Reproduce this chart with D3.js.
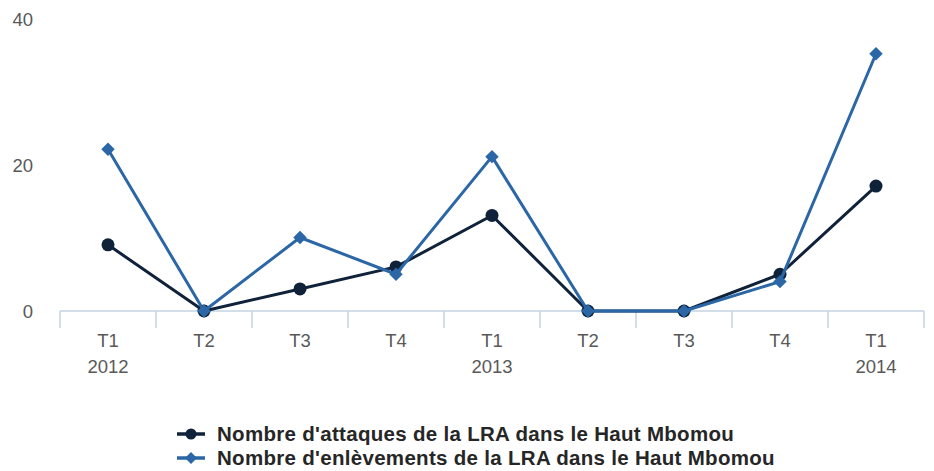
<!DOCTYPE html>
<html><head><meta charset="utf-8">
<script src="https://cdn.jsdelivr.net/npm/d3@7"></script>
<style>body{margin:0;background:#fff}svg{display:block}</style>
</head><body>
<svg id="c" width="934" height="471"></svg>
<script>
const quarters = ["T1","T2","T3","T4","T1","T2","T3","T4","T1"];
const years = ["2012","","","","2013","","","","2014"];
const attaques = [9,0,3,6,13,0,0,5,17];
const enlevements = [22,0,10,5,21,0,0,4,35];
const yTicks = [0,20,40];
const seriesNames = ["Nombre d'attaques de la LRA dans le Haut Mbomou","Nombre d'enlèvements de la LRA dans le Haut Mbomou"];
const colors = ["#0f223a","#2b66a6"];

const svg = d3.select("#c");
const idx = d3.range(quarters.length);
const x = d3.scaleBand().domain(idx).range([60, 924]).padding(0);
const y = d3.scaleLinear().domain([0,40]).range([311, 17]);
const font = "'Liberation Sans', Arial, sans-serif";

// x axis line and ticks
const xa = svg.append("g");
xa.append("line").attr("x1",60).attr("x2",924).attr("y1",y(0)).attr("y2",y(0))
  .attr("stroke","#c5d3e4").attr("stroke-width",1.5);
const bounds = d3.range(quarters.length+1).map(i => i < quarters.length ? x(i) : x(quarters.length-1)+x.bandwidth());
xa.selectAll(".tk").data(bounds).join("line")
  .attr("x1",d=>d).attr("x2",d=>d).attr("y1",y(0)).attr("y2",y(0)+17)
  .attr("stroke","#c5d3e4").attr("stroke-width",1.5);
xa.selectAll(".ql").data(idx).join("text")
  .attr("x",i=>x(i)+x.bandwidth()/2).attr("y",347)
  .attr("text-anchor","middle").attr("font-family",font).attr("font-size",18.5).attr("fill","#595959")
  .text(i=>quarters[i]);
xa.selectAll(".yl").data(idx).join("text")
  .attr("x",i=>x(i)+x.bandwidth()/2).attr("y",373)
  .attr("text-anchor","middle").attr("font-family",font).attr("font-size",18.5).attr("fill","#595959")
  .text(i=>years[i]);

// y labels
svg.append("g").selectAll("text").data(yTicks).join("text")
  .attr("x",33).attr("y",d=>y(d)+7+d/20)
  .attr("text-anchor","end").attr("font-family",font).attr("font-size",18.5).attr("fill","#595959")
  .text(d=>d);

const line = d3.line().x((d,i)=>x(i)+x.bandwidth()/2).y(d=>y(d));
const diamond = d3.symbol().type(d3.symbolDiamond2).size(115);

// series 1
svg.append("path").datum(attaques).attr("d",line).attr("fill","none")
  .attr("stroke",colors[0]).attr("stroke-width",3).attr("stroke-linejoin","round");
svg.append("g").selectAll("circle").data(attaques).join("circle")
  .attr("cx",(d,i)=>x(i)+x.bandwidth()/2).attr("cy",d=>y(d)).attr("r",6.5).attr("fill",colors[0]);

// series 2
svg.append("path").datum(enlevements).attr("d",line).attr("fill","none")
  .attr("stroke",colors[1]).attr("stroke-width",3).attr("stroke-linejoin","round");
svg.append("g").selectAll("path").data(enlevements).join("path")
  .attr("d",diamond).attr("transform",(d,i)=>`translate(${x(i)+x.bandwidth()/2},${y(d)})`).attr("fill",colors[1]);

// legend
const lg = svg.append("g");
const rows = [434, 458];
seriesNames.forEach((n,k)=>{
  lg.append("line").attr("x1",177).attr("x2",205).attr("y1",rows[k]).attr("y2",rows[k])
    .attr("stroke",colors[k]).attr("stroke-width",3.5);
  if(k===0) lg.append("circle").attr("cx",191).attr("cy",rows[k]).attr("r",5.5).attr("fill",colors[k]);
  else lg.append("path").attr("d",d3.symbol().type(d3.symbolDiamond2).size(90)).attr("transform",`translate(191,${rows[k]})`).attr("fill",colors[k]);
  lg.append("text").attr("x",217).attr("y",rows[k]+7).attr("font-family",font).attr("font-weight","bold")
    .attr("font-size",20.5).attr("letter-spacing",0.3).attr("fill","#262626").text(n);
});
</script>
</body></html>
